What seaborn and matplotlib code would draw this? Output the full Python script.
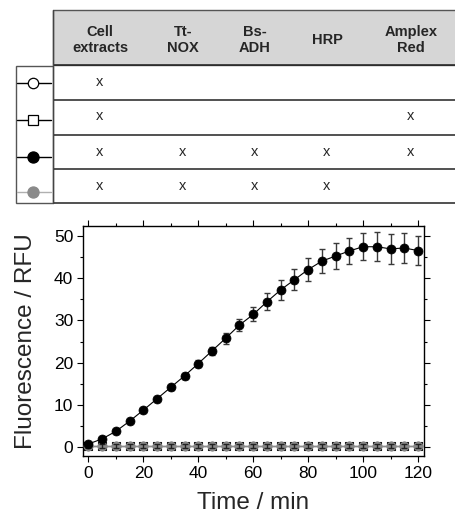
import matplotlib
matplotlib.use("Agg")
import matplotlib.pyplot as plt
import seaborn as sns
from matplotlib.patches import Rectangle
from matplotlib.ticker import MultipleLocator

# ---------------- data ----------------
time_min = [0, 5, 10, 15, 20, 25, 30, 35, 40, 45, 50, 55, 60,
            65, 70, 75, 80, 85, 90, 95, 100, 105, 110, 115, 120]

# full system (black filled circles)
full_mean = [0.8, 2.0, 3.8, 6.2, 8.8, 11.5, 14.2, 16.9, 19.8, 22.8, 25.8, 28.9, 31.4,
             34.4, 37.2, 39.6, 42.0, 44.0, 45.2, 46.4, 47.4, 47.4, 46.9, 47.1, 46.5]
full_err = [0.1, 0.15, 0.2, 0.3, 0.4, 0.5, 0.6, 0.7, 0.8, 1.0, 1.3, 1.45, 1.65,
            2.0, 2.4, 2.5, 2.8, 2.8, 3.1, 3.15, 3.2, 3.4, 3.5, 3.5, 3.5]

# cell extracts only (open circles)
extract_mean = [0.2, 0.2, 0.2, 0.2, 0.2, 0.2, 0.2, 0.2, 0.2, 0.2, 0.2, 0.2, 0.2,
                0.2, 0.2, 0.2, 0.2, 0.2, 0.2, 0.2, 0.2, 0.2, 0.2, 0.2, 0.2]
# cell extracts + Amplex Red (open squares)
amplex_mean = [0.2, 0.2, 0.2, 0.2, 0.2, 0.2, 0.2, 0.2, 0.2, 0.2, 0.2, 0.2, 0.2,
               0.2, 0.2, 0.2, 0.2, 0.2, 0.2, 0.2, 0.2, 0.2, 0.2, 0.2, 0.2]
# all but Amplex Red (grey circles)
noamplex_mean = [0.3, 0.3, 0.3, 0.3, 0.3, 0.3, 0.3, 0.3, 0.3, 0.3, 0.3, 0.3, 0.3,
                 0.3, 0.3, 0.3, 0.3, 0.3, 0.3, 0.3, 0.3, 0.3, 0.3, 0.3, 0.3]
noamplex_err = [0.5, 0.5, 0.5, 0.5, 0.5, 0.5, 0.5, 0.5, 0.5, 0.5, 0.5, 0.5, 0.5,
                0.5, 0.5, 0.5, 0.5, 0.5, 0.5, 0.5, 0.5, 0.5, 0.5, 0.5, 0.5]

components = ["Cell\nextracts", "Tt-\nNOX", "Bs-\nADH", "HRP", "Amplex\nRed"]
row_extract = [1, 0, 0, 0, 0]
row_amplex = [1, 0, 0, 0, 1]
row_full = [1, 1, 1, 1, 1]
row_noamplex = [1, 1, 1, 1, 0]

x_ticks = [0, 20, 40, 60, 80, 100, 120]
y_ticks = [0, 10, 20, 30, 40, 50]

# ---------------- style ----------------
sns.set_theme(style="ticks")
plt.rcParams['font.family'] = ['Liberation Sans', 'DejaVu Sans']
plt.rcParams['axes.edgecolor'] = 'black'
plt.rcParams['xtick.color'] = 'black'
plt.rcParams['ytick.color'] = 'black'

W, H = 455, 516
fig = plt.figure(figsize=(W / 100, H / 100), dpi=100)

# ---------------- table (pixel coordinates) ----------------
tab = fig.add_axes([0, 0, 1, 1])
tab.set_xlim(0, W)
tab.set_ylim(H, 0)
tab.axis('off')

tab.add_patch(Rectangle((53, 10), W - 53 + 2, 55, facecolor='#d6d6d6',
                        edgecolor='#555555', lw=1.0))
tab.add_patch(Rectangle((16, 66), 37, 137, facecolor='white',
                        edgecolor='#555555', lw=1.0))
for yl in [65, 99.5, 134.5, 169, 203]:
    tab.plot([53, W + 2], [yl, yl], color='#222222', lw=1.1, solid_capstyle='butt')
tab.plot([53, 53], [10, 203], color='#444444', lw=1.0)

col_x = [100, 183, 255, 327, 411]
for cx, name in zip(col_x, components):
    tab.text(cx, 40, name, ha='center', va='center', fontsize=10.5,
             fontweight='bold', linespacing=1.1)

rows = [row_extract, row_amplex, row_full, row_noamplex]
row_y = [82, 116.5, 152, 186.5]
for ry, flags in zip(row_y, rows):
    for cx, f in zip(col_x, flags):
        if f:
            tab.text(cx, ry, "x", ha='center', va='center', fontsize=10.5)

sym_y = [83, 120, 156.5, 192]
sym_styles = [
    dict(marker='o', mfc='white', mec='black', color='black', ms=7.5),
    dict(marker='s', mfc='white', mec='black', color='black', ms=6.5),
    dict(marker='o', mfc='black', mec='black', color='black', ms=8),
    dict(marker='o', mfc='#8a8a8a', mec='#8a8a8a', color='#b0b0b0', ms=8),
]
for sy, st in zip(sym_y, sym_styles):
    tab.plot([17, 33, 51], [sy, sy, sy], lw=1.0, markevery=[1], mew=0.9, **st)

# ---------------- main plot ----------------
ax = fig.add_axes([83 / W, 1 - 456 / H, (424 - 83) / W, (456 - 226) / H])
ax.set_facecolor('white')

sns.lineplot(x=time_min, y=extract_mean, ax=ax, color='black', lw=0.8,
             marker='o', markersize=6, markerfacecolor='white',
             markeredgecolor='black', markeredgewidth=0.8, zorder=2)
sns.lineplot(x=time_min, y=amplex_mean, ax=ax, color='black', lw=0.8,
             marker='s', markersize=5.5, markerfacecolor='white',
             markeredgecolor='black', markeredgewidth=0.8, zorder=2)
ax.errorbar(time_min, noamplex_mean, yerr=noamplex_err, fmt='none',
            ecolor='#222222', elinewidth=1.0, capsize=2.2, capthick=1.0, zorder=4)
sns.lineplot(x=time_min, y=noamplex_mean, ax=ax, color='#8a8a8a', lw=1.0,
             marker='o', markersize=6.5, markerfacecolor='#8a8a8a',
             markeredgecolor='#8a8a8a', markeredgewidth=0.5, zorder=3)
ax.errorbar(time_min, full_mean, yerr=full_err, fmt='none',
            ecolor='#3a3a3a', elinewidth=1.0, capsize=2.2, capthick=1.0, zorder=5)
sns.lineplot(x=time_min, y=full_mean, ax=ax, color='black', lw=0.8,
             marker='o', markersize=6.5, markerfacecolor='black',
             markeredgecolor='black', markeredgewidth=0.5, zorder=6)

ax.set_xlim(-2, 122.2)
ax.set_ylim(-2.05, 52.3)
ax.set_xticks(x_ticks)
ax.set_xticklabels([str(v) for v in x_ticks])
ax.set_yticks(y_ticks)
ax.set_yticklabels([str(v) for v in y_ticks])
ax.xaxis.set_minor_locator(MultipleLocator(10))
ax.yaxis.set_minor_locator(MultipleLocator(5))
ax.tick_params(which='both', direction='out', top=True, right=True,
               labeltop=False, labelright=False, width=0.8, colors='black')
ax.tick_params(which='major', length=4, labelsize=12.5, pad=3)
ax.tick_params(which='minor', length=2.5)
for s in ax.spines.values():
    s.set_visible(True)
    s.set_linewidth(1.0)
    s.set_color('black')

ax.set_xlabel("Time / min", fontsize=17.5, labelpad=8)
ax.set_ylabel("Fluorescence / RFU", fontsize=17.5, labelpad=12)

fig.savefig("out.png", dpi=100)
